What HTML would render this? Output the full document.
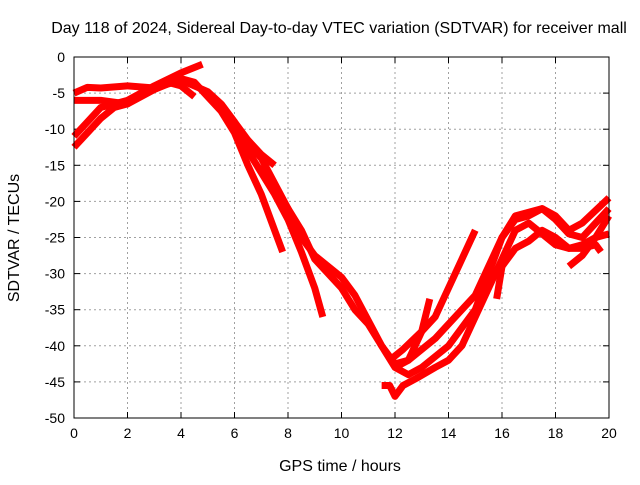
<!DOCTYPE html>
<html><head><meta charset="utf-8"><style>
body{margin:0;background:#fff}
svg text{font-family:"Liberation Sans",sans-serif;font-size:14px;fill:#000}
svg text.big{font-size:16px}
</style></head><body>
<svg id="chart" width="640" height="480">
<text class="big" x="339" y="33" text-anchor="middle">Day 118 of 2024, Sidereal Day-to-day VTEC variation (SDTVAR) for receiver mall</text>
<text class="big" x="340" y="471" text-anchor="middle">GPS time / hours</text>
<text class="big" transform="translate(19,238) rotate(-90)" text-anchor="middle">SDTVAR / TECUs</text>
<g id="grid"></g><g id="ticks"></g><g id="series"></g>
<rect x="74" y="57" width="535" height="361" fill="none" stroke="#000" stroke-width="1"/>
</svg>
<script>
const xTicks=[0,2,4,6,8,10,12,14,16,18,20];
const yTicks=[0,-5,-10,-15,-20,-25,-30,-35,-40,-45,-50];
const trackA=[[0,-12.5],[0.5,-10.5],[1,-8.5],[1.5,-7],[2,-6.5],[3,-4.5],[4,-3],[4.5,-3.5],[5,-5.5],[5.5,-7.5],[6,-10.5],[6.5,-15],[7,-19],[7.5,-24],[7.8,-27]];
const trackB=[[0,-11],[0.5,-9],[1,-7],[2,-6],[3,-4],[4,-2.2],[4.8,-1]];
const trackC=[[0,-5],[0.5,-4.2],[1,-4.3],[2,-4],[3,-4.3],[4,-3.2],[5,-4.8],[5.5,-6.5],[6,-9],[6.5,-13],[7,-16],[7.5,-19],[8,-22.5],[8.5,-27],[9,-32],[9.3,-36]];
const trackD=[[0,-6],[1,-6],[2,-6.5],[2.5,-5],[3,-4.5],[3.5,-3.5],[4,-4],[4.5,-5.5]];
const trackE=[[5.5,-6.5],[6,-9],[6.5,-11.5],[7,-13.5],[7.5,-15]];
const trackF=[[6,-10],[7,-14],[8,-21],[8.5,-24],[9,-28],[10,-32],[10.5,-35],[11,-37],[11.5,-40],[12,-43],[12.5,-44],[13,-43],[14,-40],[15,-35],[15.5,-30],[16,-25],[16.5,-22.5],[17,-22],[17.5,-21],[18,-22],[18.5,-24],[19,-23],[20,-19.5]];
const trackG=[[7,-15],[8,-21],[8.5,-25],[9,-27.5],[10,-30.5],[10.5,-33],[11,-36.5],[11.5,-40],[12,-42.5],[12.5,-42],[13,-40.5],[13.5,-39],[14,-37],[15,-33],[15.5,-29],[16,-25],[16.5,-22],[17,-21.5],[17.5,-21],[18,-22.5],[18.5,-24.5],[19,-25],[19.5,-23],[20,-21]];
const trackH=[[11.5,-45.5],[11.8,-45.5],[12,-47],[12.3,-45.5],[12.8,-44.5],[13.5,-43],[14,-42],[14.5,-40],[15,-36],[15.5,-32],[16,-28],[16.5,-24],[17,-23],[17.5,-24.5],[18,-26],[18.5,-26.5],[19,-26],[19.5,-25],[20,-24.5]];
const trackI=[[11.8,-42],[12.3,-40.5],[13,-38],[13.5,-36],[14,-32],[14.5,-28],[15,-24]];
const trackJ=[[12,-43],[12.5,-42],[13,-38],[13.3,-33.5]];
const trackK=[[15.8,-33.5],[16,-29],[16.5,-26.5],[17,-25.5],[17.5,-24],[18,-25],[18.5,-26.5],[19,-26.5],[19.5,-26],[19.7,-27]];
const trackL=[[18.5,-29],[19,-27.5],[19.5,-25],[20,-22]];
const tracks=[trackA,trackB,trackC,trackD,trackE,trackF,trackG,trackH,trackI,trackJ,trackK,trackL];
const X0=74,X1=609,Y0=57,Y1=418;
function sx(v){return X0+(v-0)/(20-0)*(X1-X0);}
function sy(v){return Y0+(0-v)/(0-(-50))*(Y1-Y0);}
const NS="http://www.w3.org/2000/svg";
const grid=document.getElementById('grid'),ticks=document.getElementById('ticks'),series=document.getElementById('series');
function mk(t,a,p){const e=document.createElementNS(NS,t);for(const k in a)e.setAttribute(k,a[k]);p.appendChild(e);return e;}
xTicks.forEach(v=>{const x=sx(v);
 const g=mk('line',{x1:x,x2:x,y1:Y0,y2:Y1,stroke:'#a0a0a0','stroke-dasharray':'2,3'},grid);
 
 
 mk('line',{x1:x,x2:x,y1:Y1,y2:Y1-6,stroke:'#000'},ticks);
 mk('line',{x1:x,x2:x,y1:Y0,y2:Y0+6,stroke:'#000'},ticks);
 const t=mk('text',{x:x,y:Y1+20,'text-anchor':'middle'},ticks);t.textContent=v;
 
 
});
yTicks.forEach(v=>{const y=sy(v);
 const g=mk('line',{x1:X0,x2:X1,y1:y,y2:y,stroke:'#a0a0a0','stroke-dasharray':'2,3'},grid);
 
 
 mk('line',{x1:X0,x2:X0+6,y1:y,y2:y,stroke:'#000'},ticks);
 mk('line',{x1:X1,x2:X1-6,y1:y,y2:y,stroke:'#000'},ticks);
 const t=mk('text',{x:X0-9,y:y+5,'text-anchor':'end'},ticks);t.textContent=v;
 
 
});
tracks.forEach(tr=>{
 const p=mk('polyline',{points:tr.map(d=>sx(d[0])+','+sy(d[1])).join(' '),fill:'none',stroke:'#ff0000','stroke-width':7,'stroke-linejoin':'round'},series);
 
 
});
</script>
</body></html>
